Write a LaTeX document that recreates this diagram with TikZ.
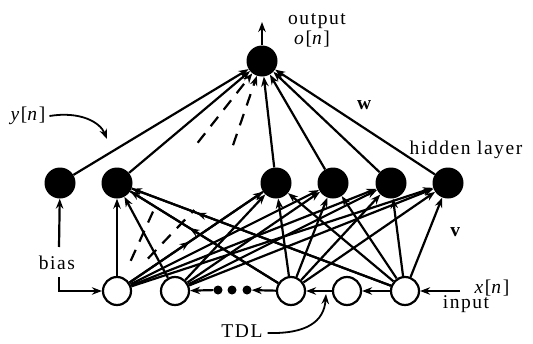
\documentclass[tikz,border=0pt]{standalone}
\usepackage{fontspec}
\setmainfont{Liberation Serif}[LetterSpace=8]
\usetikzlibrary{arrows.meta,calc,decorations.markings}
\begin{document}
\begin{tikzpicture}[x=1pt,y=-1pt,
  hid/.style={circle,fill=black,minimum size=31pt,inner sep=0pt},
  inp/.style={circle,draw=black,line width=2.2pt,fill=white,minimum size=28pt,inner sep=0pt},
  dotn/.style={circle,fill=black,minimum size=9pt,inner sep=0pt},
  arr/.style={line width=2.2pt,-{Stealth[length=10pt,width=7.5pt]}},
  ln/.style={line width=2.2pt},
  dsh/.style={line width=2.2pt,dash pattern=on 12pt off 9pt},
  lab/.style={font=\fontsize{19.5}{22}\selectfont,inner sep=0pt},
  midarr/.style={postaction={decorate},decoration={markings,mark=at position #1 with {\arrow{Stealth[length=10pt,width=7.5pt]}}}}
]
\useasboundingbox (0,0) rectangle (533,343);
% nodes
\node[hid] (out) at (262,61) {};
\node[hid] (h1) at (60,183) {};
\node[hid] (h2) at (117,183) {};
\node[hid] (h3) at (276,183) {};
\node[hid] (h4) at (333,183) {};
\node[hid] (h5) at (391,183) {};
\node[hid] (h6) at (448,183) {};
\coordinate (ha) at (166,183);
\coordinate (hb) at (220,183);
\node[inp] (i1) at (117,291) {};
\node[inp] (i2) at (175,291) {};
\node[inp] (i3) at (291,291) {};
\node[inp] (i4) at (347,291) {};
\node[inp] (i5) at (405,291) {};
\node[dotn] (d1) at (218,290) {};
\node[dotn] (d2) at (232,290) {};
\node[dotn] (d3) at (247,290) {};
% hidden -> output
\foreach \h in {h1,h2,h3,h4,h5,h6} \draw[arr] (\h) -- (out);
\draw[arr,dsh] ($(ha)!0.33!(out)$) -- (out);
\draw[arr,dsh] ($(hb)!0.31!(out)$) -- (out);
\coordinate (outtip) at (262,22);
\draw[arr] (out) -- (outtip);
% input -> hidden
\foreach \i in {i1,i2,i3,i5} \foreach \h in {h2,h3,h4,h5,h6} \draw[arr] (\i) -- (\h);
\draw[ln,midarr=0.6] (i3) -- (h2);
\draw[ln,midarr=0.75] (i5) -- (h2);
\draw[ln,midarr=0.45] (i1) -- (h3);
\draw[dsh] ($(i1)!0.28!(ha)$) -- ($(i1)!0.8!(ha)$);
\draw[dsh] ($(i1)!0.3!(hb)$) -- ($(i1)!0.75!(hb)$);
% tapped delay line
\draw[arr] (i5) -- (i4);
\draw[arr] (i4) -- (i3);
\draw[arr] (i3) -- (d3);
\draw[arr] (d1) -- (i2);
\coordinate (xs) at (460,291);
\draw[arr] (xs) -- (i5);
% bias
\coordinate (bt) at (59,247);
\coordinate (bb) at (59,277);
\draw[arr] (bt) -- (h1);
\draw[arr] (bb) |- (i1);
% labels
\node[lab] (outl) at (317,21) {output};
\node[lab] (onl) at (312,39) {\textit{o}[\textit{n}]};
\node[lab] (ylab) at (28,116) {\textit{y}[\textit{n}]};
\node[lab] (wl) at (365,105) {\textbf{w}};
\node[lab] (hl) at (466,150) {hidden layer};
\node[lab] (vl) at (456,232) {\textbf{v}};
\node[lab] (xl) at (492,288) {\textit{x}[\textit{n}]};
\node[lab] (inl) at (466,304) {input};
\node[lab] (bl) at (57,263) {bias};
\node[lab] (tdl) at (242,331) {TDL};
\coordinate (ytip) at (107,139);
\draw[arr,line width=1.8pt] ($(ylab.east)+(4,0)$) .. controls (80,111) and (100,122) .. (ytip);
\coordinate (tdltip) at (326,294);
\draw[arr,line width=1.8pt] ($(tdl.east)+(5,2)$) .. controls (306,334) and (324,322) .. (tdltip);
\end{tikzpicture}
\end{document}
